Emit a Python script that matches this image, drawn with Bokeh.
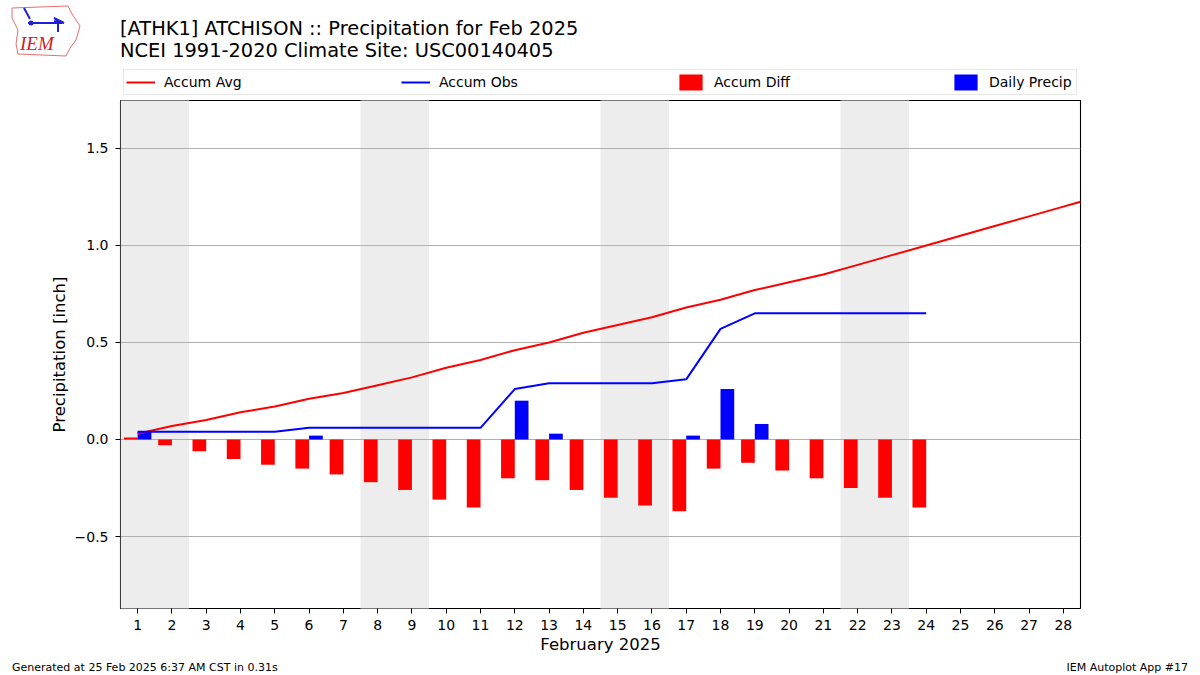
from bokeh.plotting import figure
from bokeh.models import Range1d, FixedTicker, Legend, LegendItem, Div
from bokeh.layouts import column
from bokeh.embed import file_html
from bokeh.resources import INLINE

# ---------------- data ----------------
days_avg = list(range(1, 30))
accum_avg = [0.03, 0.07, 0.10, 0.14, 0.17, 0.21, 0.24, 0.28, 0.32, 0.37,
             0.41, 0.46, 0.50, 0.55, 0.59, 0.63, 0.68, 0.72, 0.77, 0.81,
             0.85, 0.90, 0.95, 1.00, 1.05, 1.10, 1.15, 1.20, 1.25]
days_obs = list(range(1, 25))
accum_obs = [0.04, 0.04, 0.04, 0.04, 0.04, 0.06, 0.06, 0.06, 0.06, 0.06,
             0.06, 0.26, 0.29, 0.29, 0.29, 0.29, 0.31, 0.57, 0.65, 0.65,
             0.65, 0.65, 0.65, 0.65]
accum_diff = [0.01, -0.03, -0.06, -0.10, -0.13, -0.15, -0.18, -0.22, -0.26, -0.31,
              -0.35, -0.20, -0.21, -0.26, -0.30, -0.34, -0.37, -0.15, -0.12, -0.16,
              -0.20, -0.25, -0.30, -0.35]
daily_precip = [0.04, 0, 0, 0, 0, 0.02, 0, 0, 0, 0,
                0, 0.20, 0.03, 0, 0, 0, 0.02, 0.26, 0.08, 0,
                0, 0, 0, 0]
weekend_starts = [1, 8, 15, 22]
x_ticks = list(range(1, 29))
y_ticks = [-0.5, 0.0, 0.5, 1.0, 1.5]
y_tick_labels = ["\u22120.5", "0.0", "0.5", "1.0", "1.5"]
legend_labels = ["Accum Avg", "Accum Obs", "Accum Diff", "Daily Precip"]

title1 = "[ATHK1] ATCHISON :: Precipitation for Feb 2025"
title2 = "NCEI 1991-2020 Climate Site: USC00140405"
xlabel = "February 2025"
ylabel = "Precipitation [inch]"
footer_left = "Generated at 25 Feb 2025 6:37 AM CST in 0.31s"
footer_right = "IEM Autoplot App #17"

# ---------------- layout ----------------
PW = 1200
HEAD_H = 64
LEG_H = 34
FL, FT, FW, FH = 120, 100, 960, 508   # main frame in page pixels
MAIN_BOTTOM = 655
FOOT_H = 18
X0, X1 = 0.5, 28.5
Y0, Y1 = -0.871, 1.747
FONT = "DejaVu Sans"
RED, BLUE = "#ff0000", "#0000ff"

def draw_series(fig):
    diff_x = [d - 0.2 for d in days_obs]
    r_diff = fig.vbar(x=diff_x, top=accum_diff, bottom=0, width=0.4,
                      fill_color=RED, line_color=None)
    pd_days = [d + 0.2 for d, v in zip(days_obs, daily_precip) if v > 0]
    pd_vals = [v for v in daily_precip if v > 0]
    r_prec = fig.vbar(x=pd_days, top=pd_vals, bottom=0, width=0.4,
                      fill_color=BLUE, line_color=None)
    r_avg = fig.line(days_avg, accum_avg, line_color=RED, line_width=2)
    r_obs = fig.line(days_obs, accum_obs, line_color=BLUE, line_width=2)
    return r_avg, r_obs, r_diff, r_prec

# ---------- main plot ----------
p = figure(frame_width=FW, frame_height=FH,
           min_border_left=FL, min_border_right=PW - FL - FW,
           min_border_top=FT - HEAD_H - LEG_H, min_border_bottom=MAIN_BOTTOM - FT - FH,
           x_range=Range1d(X0, X1), y_range=Range1d(Y0, Y1),
           output_backend="svg", toolbar_location=None,
           background_fill_color="white", border_fill_color="white")
p.outline_line_color = "black"
p.outline_line_width = 1.1

p.quad(left=[d - 0.5 for d in weekend_starts], right=[d + 1.5 for d in weekend_starts],
       bottom=Y0 - 1, top=Y1 + 1, fill_color="#ededed", line_color=None, level="image")
draw_series(p)

p.xgrid.visible = False
p.ygrid.grid_line_color = "#b0b0b0"
p.ygrid.grid_line_width = 1
p.yaxis.ticker = FixedTicker(ticks=y_ticks)
p.yaxis.major_label_overrides = {t: l for t, l in zip(y_ticks, y_tick_labels)}
p.xaxis.ticker = FixedTicker(ticks=x_ticks)
for ax in (p.xaxis, p.yaxis):
    ax.axis_line_color = None
    ax.major_tick_in = 0
    ax.major_tick_out = 5
    ax.minor_tick_line_color = None
    ax.major_tick_line_color = "black"
    ax.major_label_text_font = FONT
    ax.major_label_text_font_size = "14px"
    ax.major_label_text_color = "black"
    ax.axis_label_text_font = FONT
    ax.axis_label_text_font_size = "16.5px"
    ax.axis_label_text_font_style = "normal"
    ax.axis_label_text_color = "black"
p.xaxis.axis_label = xlabel
p.yaxis.axis_label = ylabel
p.xaxis.major_label_standoff = 6
p.xaxis.axis_label_standoff = 2
p.yaxis.major_label_standoff = 7
p.yaxis.axis_label_standoff = 3

# ---------- legend strip (same series, y window kept off the data) ----------
lg = figure(frame_width=FW, frame_height=LEG_H,
            min_border_left=FL, min_border_right=PW - FL - FW,
            min_border_top=0, min_border_bottom=0,
            x_range=Range1d(X0, X1), y_range=Range1d(Y1 + 10, Y1 + 11),
            x_axis_type=None, y_axis_type=None, output_backend="svg",
            toolbar_location=None, background_fill_color="white",
            border_fill_color="white")
lg.outline_line_color = None
lg.grid.visible = False
keys = draw_series(lg)
legend = Legend(items=[LegendItem(label=lbl, renderers=[r]) for lbl, r in
                       zip(legend_labels, keys)],
                orientation="horizontal", location="bottom_left", margin=3,
                padding=2, glyph_width=29, glyph_height=20, label_height=20,
                label_width=85, label_standoff=9, spacing=152,
                label_text_font=FONT, label_text_font_size="14px",
                label_text_color="black",
                border_line_color="#d0d0d0", border_line_width=1,
                background_fill_color="white", background_fill_alpha=1.0)
lg.add_layout(legend, "center")

# ---------- header (logo + titles) ----------
logo_svg = (
    '<svg width="80" height="60" style="position:absolute;left:6px;top:2px;">'
    '<path d="M6,6 L62,4 L66,12 L74,24 L70,38 L64,46 L60,54 L12,52 L10,42 L12,28 L6,16 Z" '
    'fill="none" stroke="#e07070" stroke-width="1"/>'
    '<path d="M22,21 L56,21 M48,16 L58,21 L48,19 M52,21 L52,30 M18,6 L24,17" '
    'fill="none" stroke="#2020d0" stroke-width="2"/>'
    '<circle cx="25" cy="21" r="2.5" fill="#2020d0"/>'
    '</svg>'
)
head_html = (
    f'<div style="position:relative;width:{PW}px;height:{HEAD_H}px;'
    f'font-family:\'{FONT}\';color:black;">'
    + logo_svg +
    '<span style="position:absolute;left:20px;top:34px;font-family:\'Liberation Serif\';'
    'font-style:italic;font-size:19px;line-height:20px;color:#d42020;">IEM</span>'
    f'<span style="position:absolute;left:120px;top:18px;font-size:19.4px;line-height:22px;'
    f'white-space:nowrap;">{title1}</span>'
    f'<span style="position:absolute;left:120px;top:40px;font-size:19.4px;line-height:22px;'
    f'white-space:nowrap;">{title2}</span>'
    '</div>'
)
header = Div(text=head_html, width=PW, height=HEAD_H,
             styles={"margin": "0", "padding": "0"})

# ---------- footer ----------
foot_html = (
    f'<div style="position:relative;width:{PW}px;height:{FOOT_H}px;'
    f'font-family:\'{FONT}\';font-size:11px;line-height:13px;color:black;">'
    f'<span style="position:absolute;left:12px;top:5px;white-space:nowrap;">{footer_left}</span>'
    f'<span style="position:absolute;right:12px;top:5px;white-space:nowrap;">{footer_right}</span>'
    '</div>'
)
footer = Div(text=foot_html, width=PW, height=FOOT_H,
             styles={"margin": "0", "padding": "0"})

layout = column(header, lg, p, footer, spacing=0)
open("out.html", "w").write(file_html(layout, INLINE))
